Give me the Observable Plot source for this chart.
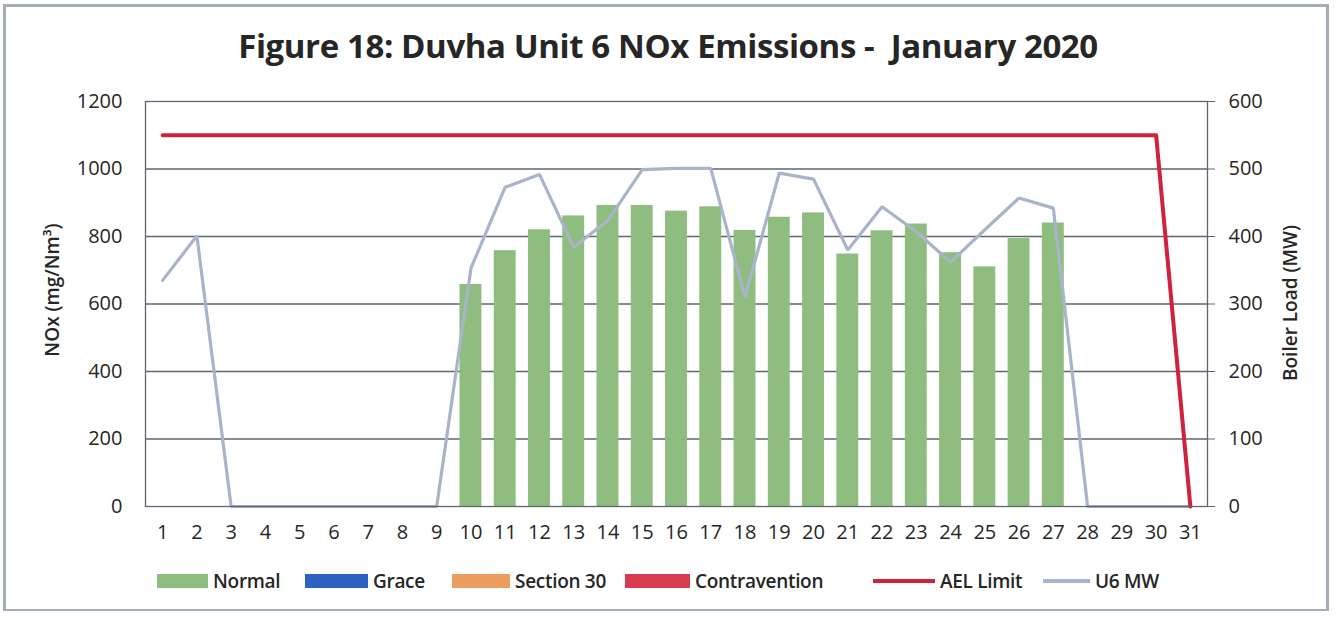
<!DOCTYPE html>
<html>
<head>
<meta charset="utf-8">
<script src="https://cdn.jsdelivr.net/npm/d3@7"></script>
<script src="https://cdn.jsdelivr.net/npm/@observablehq/plot@0.6"></script>
<style>
  html, body { margin: 0; padding: 0; background: #fff; }
  #wrap { position: relative; width: 1336px; height: 618px; overflow: hidden; font-family: "Open Sans", sans-serif; color: #262626; }
  #frame { position: absolute; left: 3px; top: 4px; width: 1326px; height: 607px; border: 3px solid #a3acbb; border-bottom-width: 2px; box-sizing: border-box; }
  #title { position: absolute; left: 0; width: 1336px; top: 23px; text-align: center; font-size: 33px; font-weight: 700; letter-spacing: -0.4px; color: #262626; }
  #chart { position: absolute; left: 0; top: 80px; }
  .ytitle { position: absolute; font-size: 19px; font-weight: 600; white-space: nowrap; transform: translate(-50%, -50%) rotate(-90deg); }
  .leg { position: absolute; top: 568px; display: flex; align-items: center; font-size: 19px; font-weight: 600; white-space: nowrap; letter-spacing: -0.3px; }
  .sw { display: inline-block; height: 14px; margin-right: 5px; }
  .ln { display: inline-block; height: 4px; margin-right: 5px; }
</style>
</head>
<body>
<div id="wrap">
  <div id="frame"></div>
  <div id="title">Figure 18: Duvha Unit 6 NOx Emissions -&nbsp; January 2020</div>
  <div id="chart"></div>
  <div class="ytitle" style="left:52px; top:290px;">NOx (mg/Nm³)</div>
  <div class="ytitle" style="left:1290px; top:303px;">Boiler Load (MW)</div>
  <div id="legend"></div>
</div>
<script>
// ---- data ----
const days = d3.range(1, 32);
const normalNOx = [null, null, null, null, null, null, null, null, null,
  658, 758, 820, 861, 892, 892, 875, 888, 818, 857, 870, 748, 817, 837, 752, 710, 794, 840,
  null, null, null, null];
const u6MW = [335, 401, 0, 0, 0, 0, 0, 0, 0,
  353, 473, 492, 384, 424, 499, 501, 501, 310, 494, 485, 380, 444, 407, 362, 410, 457, 442,
  0, 0, 0, 0];
const aelLimit = [1100, 1100, 1100, 1100, 1100, 1100, 1100, 1100, 1100, 1100,
  1100, 1100, 1100, 1100, 1100, 1100, 1100, 1100, 1100, 1100,
  1100, 1100, 1100, 1100, 1100, 1100, 1100, 1100, 1100, 1100, 0];
const leftTicks = [0, 200, 400, 600, 800, 1000, 1200];
const rightTicks = [0, 100, 200, 300, 400, 500, 600];
const legendItems = [
  {name: "Normal", kind: "bar", color: "#8fbd80", x: 157, w: 51},
  {name: "Grace", kind: "bar", color: "#2e62c0", x: 305, w: 63},
  {name: "Section 30", kind: "bar", color: "#ed9d5e", x: 452, w: 58},
  {name: "Contravention", kind: "bar", color: "#d93a50", x: 625, w: 65},
  {name: "AEL Limit", kind: "line", color: "#d0223c", x: 873, w: 62},
  {name: "U6 MW", kind: "line", color: "#a9b4ca", x: 1043, w: 47}
];
const mwScale = 1200 / 600; // right axis (MW) mapped onto left axis (NOx)

const rows = days.map((d, i) => ({day: d, nox: normalNOx[i], mw: u6MW[i], ael: aelLimit[i]}));
const gridColor = "#5e6672";

const chart = Plot.plot({
  width: 1336,
  height: 470,
  marginTop: 21,
  marginBottom: 44,
  marginLeft: 145,
  marginRight: 129,
  style: {fontFamily: "Open Sans, sans-serif", fontSize: "20px", color: "#262626", background: "transparent"},
  x: {type: "band", domain: days, paddingInner: 0.36, paddingOuter: 0.18, align: 0.5, round: false, label: null},
  y: {domain: [0, 1200], label: null},
  marks: [
    Plot.ruleY(leftTicks.filter(t => t > 0 && t < 1200), {stroke: gridColor, strokeWidth: 1.3}),
    Plot.barY(rows.filter(r => r.nox != null), {x: "day", y: "nox", fill: "#8fbd80"}),
    Plot.line(rows, {x: "day", y: d => d.mw * mwScale, stroke: "#a9b4ca", strokeWidth: 3.2, strokeLinejoin: "miter"}),
    Plot.line(rows, {x: "day", y: "ael", stroke: "#d0223c", strokeWidth: 4}),
    Plot.frame({stroke: gridColor, strokeWidth: 1.3}),
    Plot.axisX({ticks: days, tickSize: 0, tickPadding: 18, label: null}),
    Plot.axisY({anchor: "left", ticks: leftTicks, tickFormat: d => String(d), tickSize: 0, tickPadding: 23, label: null}),
    Plot.axisY({anchor: "right", ticks: rightTicks.map(t => t * mwScale), tickFormat: d => String(d / mwScale), tickSize: 7, tickPadding: 14, stroke: gridColor, label: null})
  ]
});
document.getElementById("chart").appendChild(chart);

const legend = document.getElementById("legend");
for (const it of legendItems) {
  const el = document.createElement("div");
  el.className = "leg";
  el.style.left = it.x + "px";
  const sw = document.createElement("span");
  sw.className = it.kind === "bar" ? "sw" : "ln";
  sw.style.width = it.w + "px";
  sw.style.background = it.color;
  el.appendChild(sw);
  el.appendChild(document.createTextNode(it.name));
  legend.appendChild(el);
}
</script>
</body>
</html>
